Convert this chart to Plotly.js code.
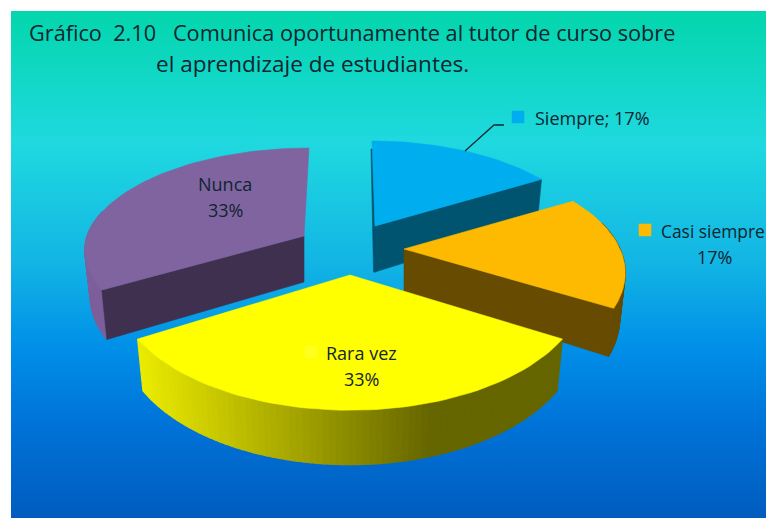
<!DOCTYPE html>
<html><head><meta charset="utf-8">
<script src="https://cdn.plot.ly/plotly-3.0.1.min.js"></script>
<style>
html,body{margin:0;padding:0;background:#fff;overflow:hidden}
#panel{position:absolute;left:11px;top:11px;width:755px;height:507px;
background:linear-gradient(180deg,#03d6ac 0%,#1fd9df 26%,#12b4e4 50%,#0090e8 66%,#0072d8 82%,#005cbe 100%)}
#g{position:absolute;left:0;top:0;width:766px;height:520px}
</style></head><body>
<div id="panel"></div><div id="g"></div>
<script>
// ---- data ----
const categories = ['Siempre','Casi siempre','Rara vez','Nunca'];
const percents = [17,17,33,33];
const shares = [1,1,2,2];                     // equal 1/6, 1/6, 1/3, 1/3 of the pie
const topColors = ['#00aeef','#fdba00','#ffff00','#8064a0'];
const wallColors = ['#005470','#664b00','#666600','#403050'];
const titleLine1 = 'Gráfico  2.10   Comunica oportunamente al tutor de curso sobre';
const titleLine2 = 'el aprendizaje de estudiantes.';

// ---- projection of the tilted, exploded pie ----
const apexX = [375,404,350,304], apexY = [226,249,275,236];
const lean = [-3,0,0,5];
const Aw = [215,216,233,217], Bh = [103.4,105.8,121.7,100.4], Kp = [0.216,0.216,0.1,0.141];
const Dp = [46,43,49,46], BOTTOM = 0.975;
function proj(i, deg){
  const t = deg*Math.PI/180, Y = -Math.cos(t), w = 1/(1-Kp[i]*Y);
  return {x: apexX[i]+Aw[i]*Math.sin(t)*w+lean[i]*Math.max(0,-Y), y: apexY[i]+Bh[i]*Y*w, d: Dp[i]*w};
}
const bx = (i,x)=>apexX[i]+(x-apexX[i])*BOTTOM;
const total = shares.reduce((a,b)=>a+b,0);
let acc = 0;
const spans = shares.map(s=>{const a=acc*360/total; acc+=s; return [a,acc*360/total];});

function poly(xs,ys,color,w){
  return {type:'scatter',mode:'lines',x:xs.concat([xs[0]]),y:ys.concat([ys[0]]),fill:'toself',
    fillcolor:color,line:{color:color,width:w||0.6},hoverinfo:'skip',showlegend:false};
}
function mix(a,b,f){return 'rgb('+a.map((v,k)=>Math.round(v+(b[k]-v)*f)).join(',')+')';}
const traces = [];
function arcPts(i,a0,a1){const p=[];const n=Math.max(2,Math.ceil(Math.abs(a1-a0)/2));
  for(let j=0;j<=n;j++)p.push(proj(i,a0+(a1-a0)*j/n));return p;}

function rim(i,a0,a1,colorAt){
  const n=Math.ceil(Math.abs(a1-a0)/1.5);
  for(let j=0;j<n;j++){
    const b0=a0+(a1-a0)*j/n,b1=a0+(a1-a0)*(j+1)/n;
    const p=proj(i,b0),q=proj(i,b1);
    traces.push(poly([p.x,q.x,bx(i,q.x),bx(i,p.x)],[p.y,q.y,q.y+q.d,p.y+p.d],colorAt((b0+b1)/2,(p.x+q.x)/2),1.2));
  }
}
function wall(i,deg){
  const p=proj(i,deg);
  traces.push(poly([apexX[i],p.x,bx(i,p.x),apexX[i]],[apexY[i],p.y,p.y+p.d,apexY[i]+Dp[i]],wallColors[i]));
}
function topFace(i){
  const p=arcPts(i,spans[i][0],spans[i][1]);
  traces.push(poly([apexX[i]].concat(p.map(o=>o.x)),[apexY[i]].concat(p.map(o=>o.y)),topColors[i]));
}
// Siempre (back right): sliver on its left cut, wall, top
const s0=proj(0,0);
traces.push(poly([s0.x-1,apexX[0]-1.5,apexX[0]+1,s0.x+1],[s0.y+8,apexY[0]+46,apexY[0]+46,s0.y+8],wallColors[0]));
wall(0,60);topFace(0);
// Nunca (back left)
rim(3,240,285,()=>'#7c5f9b');
wall(3,240);topFace(3);
// Casi siempre (right)
rim(1,75,120,()=>wallColors[1]);
wall(1,120);topFace(1);
// Rara vez (front): drawn left-to-right
rim(2,240,120,(deg,x)=>{
  const f=(x-137)/(562-137);
  return f<0.69 ? mix([236,236,0],[102,102,0],Math.max(0,f)/0.69) : '#666600';
});
topFace(2);

// ---- labels ----
const font=(size)=>({family:'"Open Sans", sans-serif',size:size,color:'#0f2530'});
const ann=(x,y,text,size,anchor)=>({x:x,y:y,xref:'x',yref:'y',text:text,showarrow:false,
  font:font(size),xanchor:anchor||'center',yanchor:'middle',align:'center'});
const LBL=18;
const annotations=[
  ann(26.5,32,titleLine1,21.7,'left'),
  ann(153.5,63,titleLine2,22.5,'left'),
  ann(532.5,118,categories[0]+'; '+percents[0]+'%',LBL,'left'),
  ann(658.5,231,categories[1],17.4,'left'),
  ann(714,257,percents[1]+'%',LBL),
  ann(361,353,categories[2],LBL),
  ann(361,379,percents[2]+'%',LBL),
  ann(225,184,categories[3],LBL),
  ann(225,210,percents[3]+'%',LBL)
];
traces.push({type:'scatter',mode:'lines',x:[465,494,504],y:[151,125,125],line:{color:'#0f2a36',width:1.3},hoverinfo:'skip',showlegend:false});
[[518,117,0],[645,230,1],[311,352,2]].forEach(k=>traces.push({type:'scatter',mode:'markers',x:[k[0]],y:[k[1]],
  marker:{symbol:'square',size:12.5,color:k[2]===2?'#ffff20':topColors[k[2]]},hoverinfo:'skip',showlegend:false}));

Plotly.newPlot('g',traces,{
  width:766,height:520,margin:{l:0,r:0,t:0,b:0},
  paper_bgcolor:'rgba(0,0,0,0)',plot_bgcolor:'rgba(0,0,0,0)',showlegend:false,
  xaxis:{range:[0,766],visible:false,fixedrange:true},
  yaxis:{range:[520,0],visible:false,fixedrange:true},
  annotations:annotations
},{displayModeBar:false,staticPlot:true});
</script></body></html>
